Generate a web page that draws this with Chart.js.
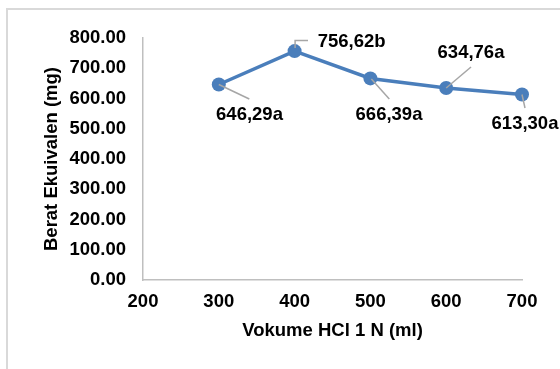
<!DOCTYPE html>
<html>
<head>
<meta charset="utf-8">
<script src="https://cdn.jsdelivr.net/npm/chart.js@4/dist/chart.umd.min.js"></script>
<style>
  html, body { margin: 0; padding: 0; background: #fff; }
  #wrap { position: relative; width: 560px; height: 369px; overflow: hidden; }
  #frame { position: absolute; left: 6px; top: 8px; width: 700px; height: 500px;
           border: 2px solid #d9d9d9; box-sizing: border-box; }
  canvas { position: absolute; left: 0; top: 0; }
</style>
</head>
<body>
<div id="wrap">
  <div id="frame"></div>
  <canvas id="c" width="560" height="369"></canvas>
</div>
<script>
// Volume of 1 N HCl (ml) and equivalent weight (mg), with significance letters
const volumes = [300, 400, 500, 600, 700];
const equivWeights = [646.29, 756.62, 666.39, 634.76, 613.30];
const letters = ['a', 'b', 'a', 'a', 'a'];
const xTicks = [200, 300, 400, 500, 600, 700];
const yTicks = [0, 100, 200, 300, 400, 500, 600, 700, 800];

const FONT = '"Liberation Sans", Arial, Helvetica, sans-serif';
const FONT_SIZE = 18.5;
const AXIS_GREY = '#bfbfbf';
const LINE_BLUE = '#4a7ebb';

// Label placement relative to each point: leader polyline and label centre (px)
const labelLayout = [
  { leader: [[0, 0], [30.5, 14.5]], center: [30.7, 30.5] },
  { leader: [[0.5, -3], [0.5, -10.5], [13.4, -10.5]], center: [57, -9] },
  { leader: [[1, 0.6], [18.9, 20.6]], center: [18.6, 36.6] },
  { leader: [[0, 0], [24.8, -21]], center: [24.8, -35] },
  { leader: [[0, 0], [3, 13.5]], center: [3, 29.5] }
];

const pointLabels = {
  id: 'pointLabels',
  afterDatasetsDraw(chart) {
    const ctx = chart.ctx;
    const meta = chart.getDatasetMeta(0);
    ctx.save();
    meta.data.forEach((pt, i) => {
      const lay = labelLayout[i];
      const { x, y } = pt.getProps(['x', 'y'], true);
      ctx.strokeStyle = '#a6a6a6';
      ctx.lineWidth = 1.5;
      ctx.beginPath();
      lay.leader.forEach(([dx, dy], k) => {
        if (k === 0) ctx.moveTo(x + dx, y + dy); else ctx.lineTo(x + dx, y + dy);
      });
      ctx.stroke();
      const v = chart.data.datasets[0].data[i].y;
      const text = v.toFixed(2).replace('.', ',') + letters[i];
      ctx.fillStyle = '#000';
      ctx.font = 'bold ' + FONT_SIZE + 'px ' + FONT;
      ctx.textAlign = 'center';
      ctx.textBaseline = 'middle';
      ctx.fillText(text, x + lay.center[0], y + lay.center[1]);
    });
    ctx.restore();
  }
};

const tickFont = { family: FONT, size: FONT_SIZE, weight: 'bold', lineHeight: 1.2 };

new Chart(document.getElementById('c'), {
  type: 'line',
  data: {
    datasets: [{
      data: volumes.map((v, i) => ({ x: v, y: equivWeights[i] })),
      borderColor: LINE_BLUE,
      backgroundColor: LINE_BLUE,
      borderWidth: 3.5,
      pointRadius: 7,
      pointHoverRadius: 7,
      pointBackgroundColor: LINE_BLUE,
      pointBorderColor: LINE_BLUE,
      pointBorderWidth: 0,
      tension: 0,
      clip: false
    }]
  },
  options: {
    responsive: false,
    animation: false,
    devicePixelRatio: 1,
    layout: { padding: { left: 0, top: 38, right: 38, bottom: 0 } },
    plugins: { legend: { display: false }, tooltip: { enabled: false } },
    scales: {
      x: {
        type: 'linear',
        min: xTicks[0],
        max: xTicks[xTicks.length - 1],
        afterBuildTicks(scale) { scale.ticks = xTicks.map(v => ({ value: v })); },
        afterFit(scale) { scale.height = 89; },
        grid: { display: false, drawTicks: false },
        border: { display: true, color: AXIS_GREY, width: 1.5 },
        ticks: {
          padding: 10.5,
          color: '#000',
          font: tickFont,
          maxRotation: 0,
          callback: v => String(v)
        },
        title: {
          display: true,
          text: 'Vokume HCl 1 N (ml)',
          color: '#000',
          font: tickFont,
          padding: { top: 0, bottom: 27 }
        }
      },
      y: {
        type: 'linear',
        min: yTicks[0],
        max: yTicks[yTicks.length - 1],
        afterBuildTicks(scale) { scale.ticks = yTicks.map(v => ({ value: v })); },
        afterFit(scale) { scale.width = 143; },
        grid: { display: false, drawTicks: false },
        border: { display: true, color: AXIS_GREY, width: 1.5 },
        ticks: {
          padding: 17,
          color: '#000',
          font: tickFont,
          callback: v => Number(v).toFixed(2)
        },
        title: {
          display: true,
          text: 'Berat Ekuivalen (mg)',
          color: '#000',
          font: tickFont,
          padding: { top: 40.5, bottom: 0 }
        }
      }
    }
  },
  plugins: [pointLabels]
});
</script>
</body>
</html>
